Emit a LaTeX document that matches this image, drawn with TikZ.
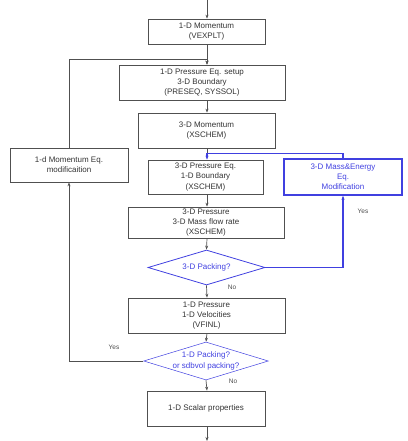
\documentclass[tikz,border=0pt]{standalone}
\usepackage{fontspec}
\setmainfont{Liberation Sans}
\usetikzlibrary{shapes.geometric,arrows.meta}
\definecolor{ln}{HTML}{505050}
\definecolor{bl}{HTML}{4040E0}
\begin{document}
\begin{tikzpicture}[x=1pt,y=-1pt,
  font=\fontsize{8}{10.2}\selectfont,
  box/.style={draw=ln,line width=0.7pt,rectangle,inner sep=0pt,align=center,text=black!80},
  bbox/.style={draw=bl,line width=1.4pt,rectangle,inner sep=0pt,align=center,text=bl},
  dia/.style={draw=bl,line width=0.8pt,diamond,inner sep=0pt,align=center,text=bl},
  arr/.style={draw=ln,line width=0.7pt,-{Stealth[length=4pt,width=3pt]}},
  barr/.style={draw=bl,line width=1.1pt,-{Stealth[length=4pt,width=3pt]}},
  lab/.style={font=\fontsize{6.5}{8}\selectfont,text=black!70}]
\useasboundingbox (0,0) rectangle (407,441);
\node[box,minimum width=117,minimum height=25] (b1) at (206.5,31.5) {1-D Momentum\\(VEXPLT)};
\node[box,minimum width=166,minimum height=35] (b2) at (202,82.5) {1-D Pressure Eq. setup\\3-D Boundary\\(PRESEQ, SYSSOL)};
\node[box,minimum width=137,minimum height=35] (b3) at (206.5,130.5) {3-D Momentum\\(XSCHEM)};
\node[box,minimum width=115,minimum height=34] (b4) at (205.5,177) {3-D Pressure Eq.\\1-D Boundary\\(XSCHEM)};
\node[box,minimum width=156,minimum height=31] (b5) at (206,222.5) {3-D Pressure\\3-D Mass flow rate\\(XSCHEM)};
\node[dia,aspect=3.34,minimum width=117,minimum height=35] (d1) at (206.5,267.5) {3-D Packing?};
\node[box,minimum width=157,minimum height=35] (b6) at (206.5,315.5) {1-D Pressure\\1-D Velocities\\(VFINL)};
\node[dia,line width=0.5pt,aspect=3.28,minimum width=118,minimum height=36] (d2) at (206,361) {1-D Packing?\\or sdbvol packing?};
\node[box,minimum width=118,minimum height=35] (b7) at (206,408.5) {1-D Scalar properties};
\node[box,minimum width=118,minimum height=34] (lb) at (69,165) {1-d Momentum Eq.\\modificaition};
\node[bbox,minimum width=118,minimum height=36] (bb) at (343,177) {3-D Mass\&Energy\\Eq.\\Modification};
\coordinate (top) at (207,0);
\coordinate (bot) at (207,441);
\coordinate (j1) at (207,59);
\coordinate (j2) at (207,153.5);
% main column
\draw[arr] (top) -- (top |- b1.north);
\draw[arr] (j1 |- b1.south) -- (j1 |- b2.north);
\draw[arr] (j1 |- b2.south) -- (j1 |- b3.north);
\draw[ln,line width=0.7pt] (j1 |- b3.south) -- (j2);
\draw[arr] (j1 |- b4.south) -- (j1 |- b5.north);
\draw[arr] (j1 |- b5.south) -- (d1.north);
\draw[arr] (d1.south) -- (j1 |- b6.north);
\draw[arr] (j1 |- b6.south) -- (d2.north);
\draw[arr] (d2.south) -- (j1 |- b7.north);
\draw[arr] (j1 |- b7.south) -- (bot);
% left feedback
\draw[arr] (d2.west) -| (lb.south);
\draw[arr] (lb.north) |- (j1) -- (j1 |- b2.north);
% blue feedback
\draw[barr] (bb.north) |- (j2) -- (j2 |- b4.north);
\draw[barr] (d1.east) -| (bb.south);
% labels
\node[lab] (no1) at (232,287) {No};
\node[lab] (no2) at (233,381) {No};
\node[lab] (yes1) at (363,211) {Yes};
\node[lab] (yes2) at (114,347) {Yes};
\end{tikzpicture}
\end{document}
